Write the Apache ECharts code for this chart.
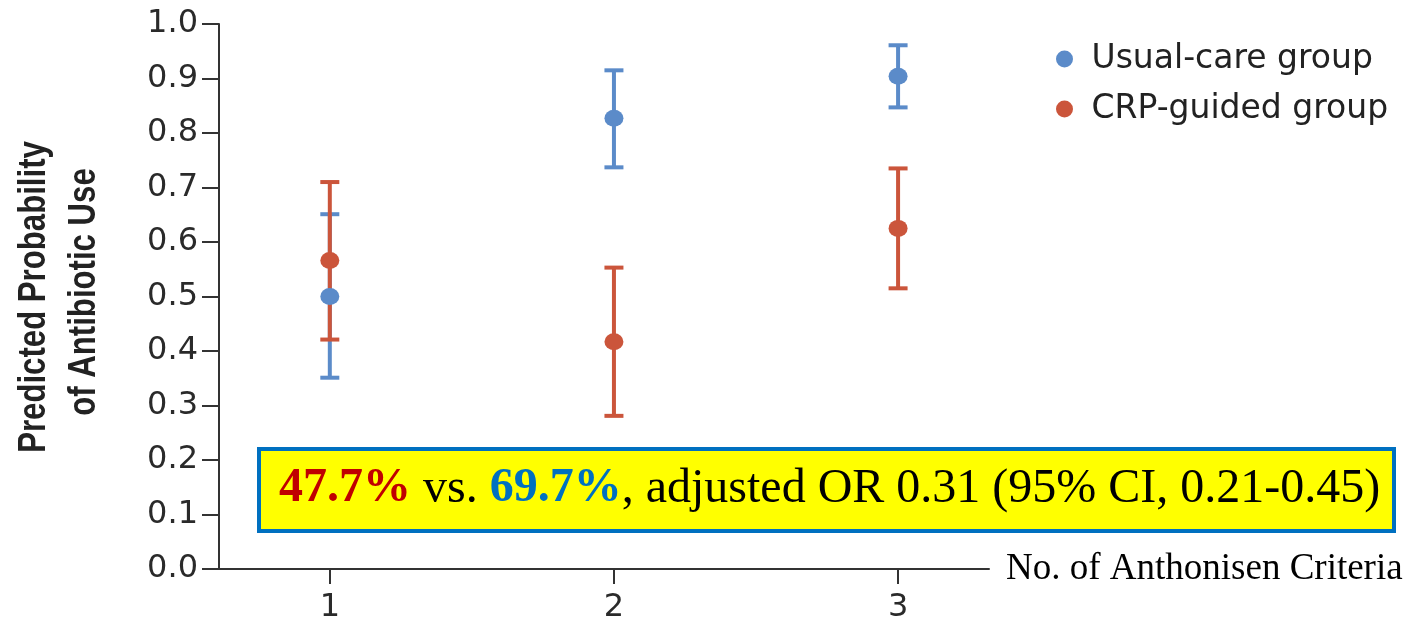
<!DOCTYPE html>
<html>
<head>
<meta charset="utf-8">
<script src="https://cdn.jsdelivr.net/npm/echarts@6/dist/echarts.min.js"></script>
<style>
  html, body { margin: 0; padding: 0; background: #ffffff; }
  #chart { width: 1411px; height: 619px; }
</style>
</head>
<body>
<div id="chart"></div>
<script>
// Number of Anthonisen criteria met
var criteria = [1, 2, 3];

// Predicted probability of antibiotic use, with 95% confidence limits
var usualMean = [0.500, 0.827, 0.904];
var usualLow  = [0.351, 0.737, 0.847];
var usualHigh = [0.651, 0.915, 0.961];

var crpMean = [0.566, 0.417, 0.625];
var crpLow  = [0.421, 0.281, 0.515];
var crpHigh = [0.710, 0.553, 0.735];

var groupNames = ['Usual-care group', 'CRP-guided group'];
var xTickValues = [1, 2, 3];

var BLUE = '#5b8bc9';
var RED = '#cb553b';
var AXIS = '#333333';

function points(means) {
  return criteria.map(function (c, i) { return [c, means[i]]; });
}
function ranges(lows, highs) {
  return criteria.map(function (c, i) { return [c, lows[i], highs[i]]; });
}

// Vertical interval with flat caps at both ends
function renderErrorBar(color) {
  return function (params, api) {
    var x = api.value(0);
    var top = api.coord([x, api.value(2)]);
    var bottom = api.coord([x, api.value(1)]);
    var half = 9.5;
    var style = { stroke: color, lineWidth: 4, fill: null };
    return {
      type: 'group',
      children: [
        { type: 'line', shape: { x1: top[0], y1: top[1], x2: bottom[0], y2: bottom[1] }, style: style },
        { type: 'line', shape: { x1: top[0] - half, y1: top[1], x2: top[0] + half, y2: top[1] }, style: style },
        { type: 'line', shape: { x1: bottom[0] - half, y1: bottom[1], x2: bottom[0] + half, y2: bottom[1] }, style: style }
      ]
    };
  };
}

var chart = echarts.init(document.getElementById('chart'), null, { renderer: 'canvas' });

chart.setOption({
  backgroundColor: '#ffffff',
  animation: false,
  grid: {
    left: 219, right: 422, top: 24, bottom: 50,
    containLabel: false,
    outerBoundsMode: 'none'
  },
  legend: {
    orient: 'vertical',
    left: 1051,
    top: 36,
    icon: 'circle',
    itemWidth: 44,
    itemHeight: 17,
    itemGap: 14,
    data: groupNames,
    textStyle: {
      fontFamily: 'DejaVu Sans',
      fontSize: 33,
      lineHeight: 36,
      color: '#222222'
    }
  },
  xAxis: {
    type: 'value',
    min: 0.61,
    max: 3.32,
    name: 'No. of Anthonisen Criteria',
    nameLocation: 'end',
    nameGap: 17,
    nameTextStyle: {
      fontFamily: 'Liberation Serif',
      fontSize: 37,
      color: '#000000',
      align: 'left',
      verticalAlign: 'middle'
    },
    splitLine: { show: false },
    axisLine: { show: true, lineStyle: { color: AXIS, width: 2 } },
    axisTick: {
      show: true, length: 15, inside: false,
      customValues: xTickValues,
      lineStyle: { color: AXIS, width: 2 }
    },
    axisLabel: {
      customValues: xTickValues,
      margin: 23,
      fontFamily: 'DejaVu Sans',
      fontSize: 32,
      color: '#2a2a2a'
    }
  },
  yAxis: {
    type: 'value',
    min: 0,
    max: 1,
    interval: 0.1,
    splitLine: { show: false },
    axisLine: { show: true, lineStyle: { color: AXIS, width: 2 } },
    axisTick: { show: true, length: 17, inside: false, lineStyle: { color: AXIS, width: 2 } },
    axisLabel: {
      margin: 21,
      fontFamily: 'DejaVu Sans',
      fontSize: 32,
      color: '#2a2a2a',
      formatter: function (v) { return v.toFixed(1); }
    }
  },
  graphic: [
    {
      type: 'text',
      x: 35, y: 297,
      rotation: Math.PI / 2,
      scaleX: 0.82,
      style: {
        text: 'Predicted Probability',
        fontFamily: 'Liberation Sans',
        fontWeight: 'bold',
        fontSize: 38,
        fill: '#222222',
        align: 'center',
        verticalAlign: 'middle'
      }
    },
    {
      type: 'text',
      x: 85, y: 292,
      rotation: Math.PI / 2,
      scaleX: 0.82,
      style: {
        text: 'of Antibiotic Use',
        fontFamily: 'Liberation Sans',
        fontWeight: 'bold',
        fontSize: 38,
        fill: '#222222',
        align: 'center',
        verticalAlign: 'middle'
      }
    },
    {
      type: 'rect',
      z: 50,
      shape: { x: 259, y: 449, width: 1135, height: 82 },
      style: { fill: '#ffff00', stroke: '#0070c0', lineWidth: 4 }
    },
    {
      type: 'text',
      z: 51,
      x: 279, y: 489,
      style: {
        text: '{r|47.7%}{n| vs. }{b|69.7%}{n|, adjusted OR 0.31 (95% CI, 0.21-0.45)}',
        align: 'left',
        verticalAlign: 'middle',
        rich: {
          r: { fontFamily: 'Liberation Serif', fontSize: 48, fontWeight: 'bold', fill: '#c00000' },
          b: { fontFamily: 'Liberation Serif', fontSize: 48, fontWeight: 'bold', fill: '#0070c0' },
          n: { fontFamily: 'Liberation Serif', fontSize: 48, fill: '#000000' }
        }
      }
    }
  ],
  series: [
    {
      name: groupNames[0] + ' CI',
      type: 'custom',
      renderItem: renderErrorBar(BLUE),
      encode: { x: 0, y: [1, 2] },
      data: ranges(usualLow, usualHigh),
      z: 2
    },
    {
      name: groupNames[1] + ' CI',
      type: 'custom',
      renderItem: renderErrorBar(RED),
      encode: { x: 0, y: [1, 2] },
      data: ranges(crpLow, crpHigh),
      z: 3
    },
    {
      name: groupNames[0],
      type: 'scatter',
      symbol: 'circle',
      symbolSize: [19, 17],
      itemStyle: { color: BLUE, opacity: 1 },
      data: points(usualMean),
      z: 4
    },
    {
      name: groupNames[1],
      type: 'scatter',
      symbol: 'circle',
      symbolSize: [19, 17],
      itemStyle: { color: RED, opacity: 1 },
      data: points(crpMean),
      z: 5
    }
  ]
});
</script>
</body>
</html>
